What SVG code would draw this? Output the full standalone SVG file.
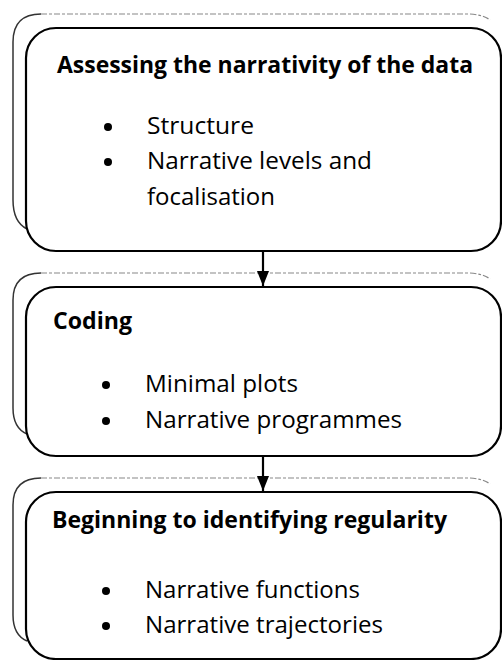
<svg xmlns="http://www.w3.org/2000/svg" width="502" height="660" viewBox="0 0 502 660">
<style>
.front{fill:#fff;stroke:#000;stroke-width:2.2}
.backside{fill:none;stroke:#333;stroke-width:1.5}
.backtop{fill:none;stroke:#888;stroke-width:1.2;stroke-dasharray:6 2 3 2}
.t{font-family:"Open Sans","Liberation Sans",sans-serif;font-size:23.5px;fill:#000}
.b{font-weight:bold}
.conn{stroke:#000;stroke-width:2.2;fill:none}
.dot{fill:#000}
</style>
<defs>
<marker id="ah" markerWidth="15" markerHeight="12" refX="15" refY="6" orient="auto" markerUnits="userSpaceOnUse" viewBox="0 0 15 12">
<path d="M0,0 L15,6 L0,12 Z" fill="#000"/>
</marker>
</defs>
<rect width="502" height="660" fill="#fff"/>

<g id="node1">
<path class="backside" d="M27,229 Q13,222 13,200 L13,42 Q13,14 41,14"/>
<path class="backtop" d="M41,14 L470,14 Q484,15 490,20"/>
<rect class="front" x="26" y="28" width="475" height="223" rx="30" ry="30"/>
<text class="t b" x="57" y="73" textLength="416" lengthAdjust="spacingAndGlyphs">Assessing the narrativity of the data</text>
<circle class="dot" cx="108" cy="127" r="4"/>
<text class="t" x="147" y="134" textLength="107" lengthAdjust="spacingAndGlyphs">Structure</text>
<circle class="dot" cx="108" cy="162" r="4"/>
<text class="t" x="147" y="169" textLength="225" lengthAdjust="spacingAndGlyphs">Narrative levels and</text>
<text class="t" x="147" y="205" textLength="128" lengthAdjust="spacingAndGlyphs">focalisation</text>
</g>

<g id="node2">
<path class="backside" d="M27,434 Q13,428 13,408 L13,300 Q13,273 41,273"/>
<path class="backtop" d="M41,273 L470,273 Q484,274 490,279"/>
<rect class="front" x="26" y="287" width="475" height="169" rx="30" ry="30"/>
<text class="t b" x="53" y="329" textLength="79" lengthAdjust="spacingAndGlyphs">Coding</text>
<circle class="dot" cx="106" cy="385" r="4"/>
<text class="t" x="145" y="392" textLength="153" lengthAdjust="spacingAndGlyphs">Minimal plots</text>
<circle class="dot" cx="106" cy="421" r="4"/>
<text class="t" x="145" y="428" textLength="257" lengthAdjust="spacingAndGlyphs">Narrative programmes</text>
</g>

<g id="node3">
<path class="backside" d="M27,641 Q13,635 13,615 L13,505 Q13,478 41,478"/>
<path class="backtop" d="M41,478 L470,478 Q484,479 490,484"/>
<rect class="front" x="26" y="492" width="475" height="167" rx="30" ry="30"/>
<text class="t b" x="52" y="528" textLength="395" lengthAdjust="spacingAndGlyphs">Beginning to identifying regularity</text>
<circle class="dot" cx="106" cy="591" r="4"/>
<text class="t" x="145" y="598" textLength="215" lengthAdjust="spacingAndGlyphs">Narrative functions</text>
<circle class="dot" cx="106" cy="626" r="4"/>
<text class="t" x="145" y="633" textLength="238" lengthAdjust="spacingAndGlyphs">Narrative trajectories</text>
</g>

<g id="connectors">
<line class="conn" x1="263" y1="252" x2="263" y2="286" marker-end="url(#ah)"/>
<line class="conn" x1="263" y1="457" x2="263" y2="491" marker-end="url(#ah)"/>
</g>
</svg>
